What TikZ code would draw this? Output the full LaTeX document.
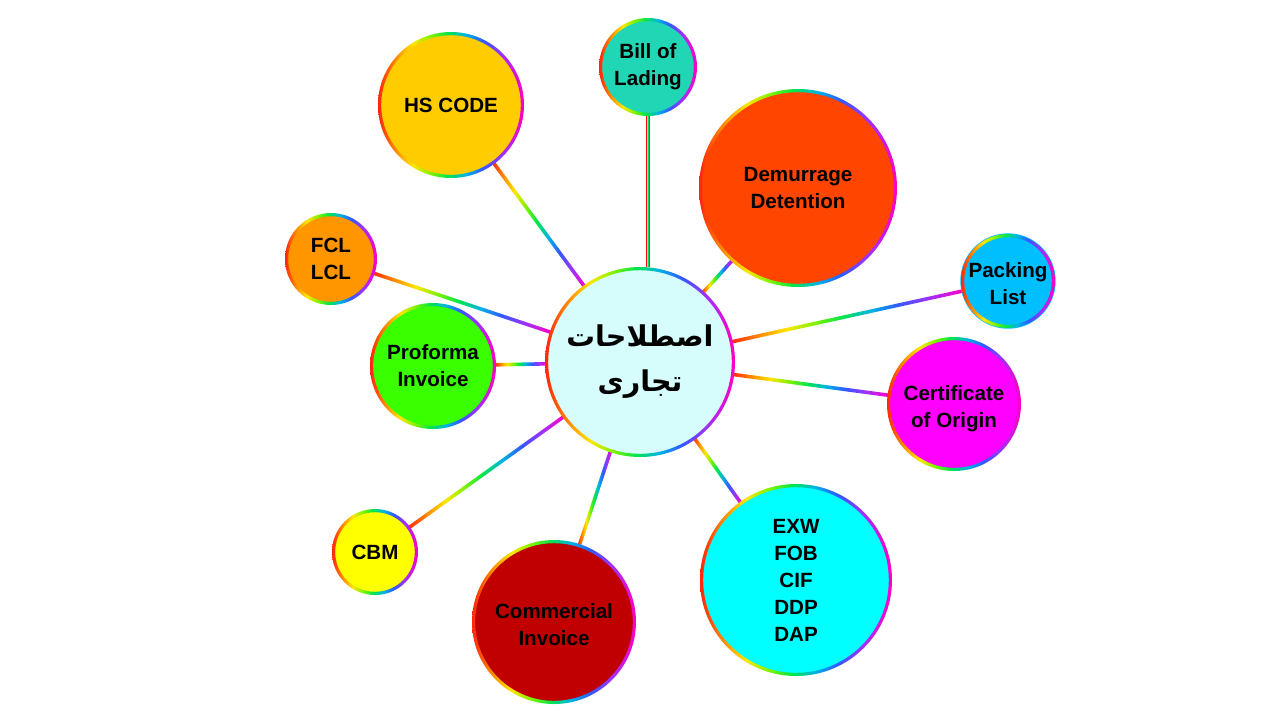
\documentclass[tikz,border=0pt]{standalone}
\usepackage{fontspec}
\setmainfont{Liberation Sans}
\newfontfamily\arabicfont[Script=Arabic]{DejaVu Sans}
\TeXXeTstate=1
\usetikzlibrary{calc}
\pgfdeclarelayer{paper}
\pgfdeclarelayer{background}
\pgfsetlayers{paper,background,main}
\pgfdeclarehorizontalshading{rbow}{100bp}{%
  rgb(0bp)=(1,0.15,0.05); rgb(25bp)=(1,0.15,0.05); rgb(32bp)=(1,0.6,0); rgb(37bp)=(1,0.9,0);
  rgb(43bp)=(0.5,0.95,0); rgb(49bp)=(0,0.9,0.3); rgb(55bp)=(0,0.7,0.9);
  rgb(61bp)=(0.2,0.35,1); rgb(67bp)=(0.6,0.2,1); rgb(75bp)=(1,0,0.75); rgb(100bp)=(1,0,0.75)}
\definecolor{cctr}{RGB}{214,252,252}
\definecolor{chs}{RGB}{255,204,0}
\definecolor{cbol}{RGB}{33,214,180}
\definecolor{cdem}{RGB}{255,69,0}
\definecolor{cpl}{RGB}{0,191,255}
\definecolor{cco}{RGB}{255,0,255}
\definecolor{cinc}{RGB}{0,255,255}
\definecolor{cci}{RGB}{192,0,0}
\definecolor{ccbm}{RGB}{255,255,0}
\definecolor{cpi}{RGB}{58,255,0}
\definecolor{cfcl}{RGB}{255,150,0}
% ring: name, radius (pt)
\newcommand\ring[2]{\shade[shading=rbow,even odd rule] (#1.center) circle[radius=#2pt] circle[radius=#2pt-1.6pt];}
% connector: a, b, radius a (pt), radius b (pt)
\newcommand\conn[4]{%
  \begin{pgfonlayer}{background}
  \path ($(#1.center)!#3pt-0.8pt!(#2.center)$) coordinate (p)
        ($(#2.center)!#4pt-0.8pt!(#1.center)$) coordinate (q);
  \shade[shading=rbow] ($(p)!0.9pt!90:(q)$) -- ($(q)!0.9pt!-90:(p)$)
     -- ($(q)!0.9pt!90:(p)$) -- ($(p)!0.9pt!-90:(q)$) -- cycle;
  \end{pgfonlayer}}
% lowered two-line text, keeping its box size
\newcommand\lowtxt[1]{\raisebox{-2.5pt}[\height][\depth]{\begin{tabular}{@{}c@{}}#1\end{tabular}}}
\tikzset{
  bub/.style={circle,inner sep=0pt,align=center,text=black,
    font=\bfseries\fontsize{10.3}{13.5}\selectfont},
}
\begin{document}
\begin{tikzpicture}[x=0.5pt,y=-0.5pt]
\begin{pgfonlayer}{paper}
\fill[white] (0,0) rectangle (1280,720);
\end{pgfonlayer}
\useasboundingbox (0,0) rectangle (1280,720);
\node[bub,fill=cctr,minimum size=94pt,font=\arabicfont\bfseries\fontsize{14.3}{22.5}\selectfont] (c) at (640,362) {\beginR اصطلاحات\endR\\\beginR تجاری\endR};
\node[bub,fill=chs,minimum size=72pt] (hs) at (451,105) {HS CODE};
\node[bub,fill=cbol,minimum size=48pt] (bol) at (648,67) {Bill of\\Lading};
\node[bub,fill=cdem,minimum size=98pt] (dem) at (798,188) {Demurrage\\Detention};
\node[bub,fill=cpl,minimum size=46pt] (pl) at (1008,281) {\lowtxt{Packing\\List}};
\node[bub,fill=cco,minimum size=66pt] (co) at (954,404) {\lowtxt{Certificate\\of Origin}};
\node[bub,fill=cinc,minimum size=95pt] (inc) at (796,580) {EXW\\FOB\\CIF\\DDP\\DAP};
\node[bub,fill=cci,minimum size=81pt] (ci) at (554,622) {\lowtxt{Commercial\\Invoice}};
\node[bub,fill=ccbm,minimum size=42pt] (cbm) at (375,552) {CBM};
\node[bub,fill=cpi,minimum size=62pt] (pi) at (433,366) {Proforma\\Invoice};
\node[bub,fill=cfcl,minimum size=45pt] (fcl) at (331,259) {FCL\\LCL};
\coordinate (cbt) at (648,266);
\ring{c}{47.5}
\ring{hs}{36.5}
\ring{bol}{24.5}
\ring{dem}{49.5}
\ring{pl}{23.5}
\ring{co}{33.5}
\ring{inc}{48}
\ring{ci}{41}
\ring{cbm}{21.5}
\ring{pi}{31.5}
\ring{fcl}{23}
\conn{hs}{c}{36.5}{47.5}
\conn{bol}{cbt}{24.5}{0.8}
\conn{c}{dem}{47.5}{49.5}
\conn{c}{pl}{47.5}{23.5}
\conn{c}{co}{47.5}{33.5}
\conn{c}{inc}{47.5}{48}
\conn{ci}{c}{41}{47.5}
\conn{cbm}{c}{21.5}{47.5}
\conn{pi}{c}{31.5}{47.5}
\conn{fcl}{c}{23}{47.5}
\end{tikzpicture}
\end{document}
